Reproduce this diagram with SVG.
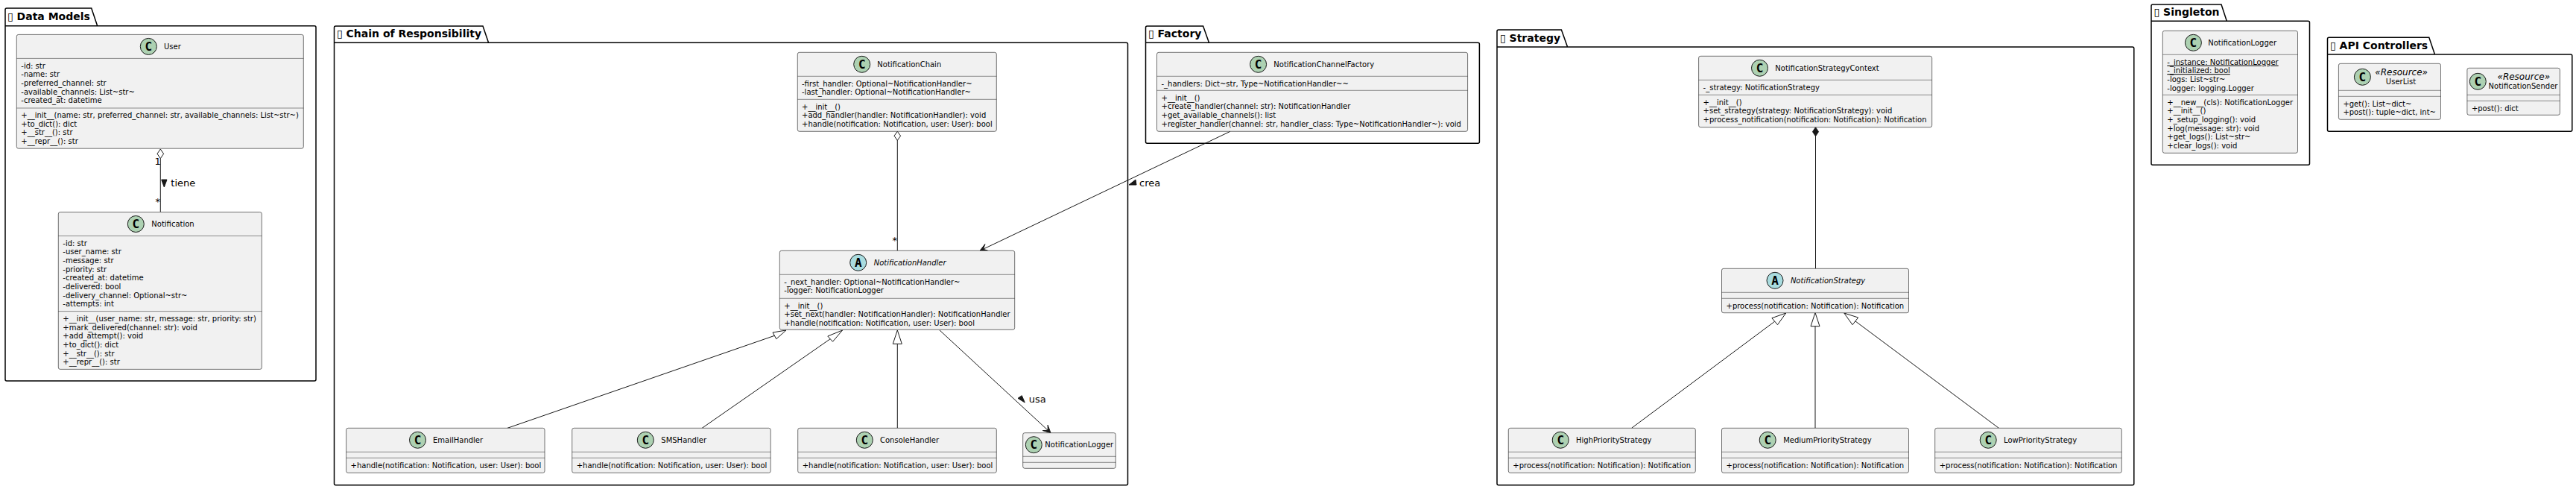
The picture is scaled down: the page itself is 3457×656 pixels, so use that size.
<svg xmlns="http://www.w3.org/2000/svg" width="3457" height="656" viewBox="0 0 3457 656">
<style>
text{font-family:"DejaVu Sans","Liberation Sans",sans-serif;fill:#000}
.pkg{fill:none;stroke:#000;stroke-width:1.5}
.pt{font-size:14px;font-weight:700}
.box{fill:#F1F1F1;stroke:#181818;stroke-opacity:.6;stroke-width:1}
.div{stroke:#181818;stroke-opacity:.6;stroke-width:.8}
.cc{fill:#ADD1B2;stroke:#181818;stroke-width:1}
.ca{fill:#A9DCDF;stroke:#181818;stroke-width:1}
.g{font-size:16px;font-weight:700;text-anchor:middle;font-family:"DejaVu Sans Mono","DejaVu Sans",monospace}
.n{font-size:10px}
.i{font-style:italic}
.m{font-size:10px}
.st{font-size:12px;font-style:italic;text-anchor:middle}
.u{text-decoration:underline}
.l{font-size:13px}
.c{fill:none;stroke:#181818;stroke-width:1}
.h{fill:#fff;stroke:#181818;stroke-width:1}
.o{fill:#181818;stroke:#181818;stroke-width:1}
</style>
<g id="pkg-data-models"><path class="pkg" d="M7 34.7V13Q7 11 9 11H122.7L130.7 34.7H422Q424 34.7 424 36.7V509Q424 511 422 511H9Q7 511 7 509V34.7H130.7"/><text class="pt" x="10" y="27">▯ Data Models</text></g>
<g id="pkg-chain"><path class="pkg" d="M448.5 57.3V37Q448.5 35 450.5 35H648L655.6 57.3H1511.5Q1513.5 57.3 1513.5 59.3V648.7Q1513.5 650.7 1511.5 650.7H450.5Q448.5 650.7 448.5 648.7V57.3H655.6"/><text class="pt" x="452" y="50">▯ Chain of Responsibility</text></g>
<g id="pkg-factory"><path class="pkg" d="M1537.5 57.3V37Q1537.5 35 1539.5 35H1614.6L1622.5 57.3H1983.4Q1985.4 57.3 1985.4 59.3V190.3Q1985.4 192.3 1983.4 192.3H1539.5Q1537.5 192.3 1537.5 190.3V57.3H1622.5"/><text class="pt" x="1541" y="50">▯ Factory</text></g>
<g id="pkg-strategy"><path class="pkg" d="M2009 63V42Q2009 40 2011 40H2095.4L2103.6 63H2861.8Q2863.8 63 2863.8 65V648.7Q2863.8 650.7 2861.8 650.7H2011Q2009 650.7 2009 648.7V63H2103.6"/><text class="pt" x="2013" y="56">▯ Strategy</text></g>
<g id="pkg-singleton"><path class="pkg" d="M2887 28.3V8Q2887 6 2889 6H2981L2988.3 28.3H3097.5Q3099.5 28.3 3099.5 30.3V219.3Q3099.5 221.3 3097.5 221.3H2889Q2887 221.3 2887 219.3V28.3H2988.3"/><text class="pt" x="2890.5" y="21">▯ Singleton</text></g>
<g id="pkg-api"><path class="pkg" d="M3123.5 73V52.3Q3123.5 50.3 3125.5 50.3H3259.8L3267.5 73H3449.8Q3451.8 73 3451.8 75V174.3Q3451.8 176.3 3449.8 176.3H3125.5Q3123.5 176.3 3123.5 174.3V73H3267.5"/><text class="pt" x="3127" y="66">▯ API Controllers</text></g>

<g id="connectors">
<path class="c" d="M215.3 212.5V284.5"/><path class="h" d="M215.3 200L211 206.3L215.3 212.6L219.6 206.3Z"/>
<path class="o" d="M216.7 241H224L220.3 251Z"/><text class="l" x="229.3" y="250">tiene</text><text class="l" x="207.5" y="221">1</text><text class="l" x="208.5" y="275">*</text>
<path class="c" d="M1204.3 188V336.3"/><path class="h" d="M1204.3 176.3L1200 182.3L1204.3 188.3L1208.6 182.3Z"/><text class="l" x="1197.5" y="327">*</text>
<path class="c" d="M1651 176.3L1319.5 334.2"/><path class="o" d="M1315 336.3L1326.2 336.5L1319.5 334.2L1321.9 327.5Z"/>
<path class="o" d="M1515 248L1524 241L1525 248Z"/><text class="l" x="1529" y="250">crea</text>
<path class="c" d="M681 574.3L1039.4 450.3"/><path class="h" d="M1055 443L1037 446L1041.8 454.7Z"/>
<path class="c" d="M942.2 574.3L1114.2 454.7"/><path class="h" d="M1130.6 443L1110.8 451L1117.5 458.3Z"/>
<path class="c" d="M1204.3 574.3V461.3"/><path class="h" d="M1204.3 443L1198.3 461.3H1210.3Z"/>
<path class="c" d="M1261 443L1406.3 577.3"/><path class="o" d="M1410 580.7L1406.1 570.2L1406.3 577.3L1399.3 577.6Z"/>
<path class="o" d="M1366 534.3L1371.3 530.7L1375.3 540Z"/><text class="l" x="1380.7" y="540">usa</text>
<path class="c" d="M2436.5 182V360.3"/><path class="o" d="M2436.5 170.7L2432.5 176.7L2436.5 182.7L2440.5 176.7Z"/>
<path class="c" d="M2189.6 574.3L2381.7 431.2"/><path class="h" d="M2396.7 420L2377.9 426.7L2385.5 435.7Z"/>
<path class="c" d="M2436 574.3V437.7"/><path class="h" d="M2436 419.5L2430 437.7H2442Z"/>
<path class="c" d="M2682.4 574.3L2489.8 430.8"/><path class="h" d="M2474.8 420L2493.7 426L2486 435.7Z"/>
</g>

<g id="User"><rect class="box" x="22.3" y="46.4" width="385" height="152.8" rx="2.5"/><path class="div" d="M22.3 78.4H407.3M22.3 145H407.3"/><circle class="cc" cx="199.3" cy="62.4" r="11"/><text class="g" x="199.3" y="68">C</text><text class="n" x="220" y="66">User</text>
<text class="m" x="28.3" y="91.7">-id: str</text><text class="m" x="28.3" y="103.3">-name: str</text><text class="m" x="28.3" y="115">-preferred_channel: str</text><text class="m" x="28.3" y="126.6">-available_channels: List~str~</text><text class="m" x="28.3" y="138.2">-created_at: datetime</text>
<text class="m" x="28.3" y="157.9">+__init__(name: str, preferred_channel: str, available_channels: List~str~)</text><text class="m" x="28.3" y="169.5">+to_dict(): dict</text><text class="m" x="28.3" y="181.2">+__str__(): str</text><text class="m" x="28.3" y="192.8">+__repr__(): str</text></g>

<g id="Notification"><rect class="box" x="78.3" y="284.5" width="273" height="210.9" rx="2.5"/><path class="div" d="M78.3 316.5H351.3M78.3 417.6H351.3"/><circle class="cc" cx="182.3" cy="300.5" r="11"/><text class="g" x="182.3" y="306">C</text><text class="n" x="203.3" y="304">Notification</text>
<text class="m" x="84.3" y="329.8">-id: str</text><text class="m" x="84.3" y="341.4">-user_name: str</text><text class="m" x="84.3" y="353.1">-message: str</text><text class="m" x="84.3" y="364.7">-priority: str</text><text class="m" x="84.3" y="376.4">-created_at: datetime</text><text class="m" x="84.3" y="388">-delivered: bool</text><text class="m" x="84.3" y="399.6">-delivery_channel: Optional~str~</text><text class="m" x="84.3" y="411.3">-attempts: int</text>
<text class="m" x="84.3" y="430.9">+__init__(user_name: str, message: str, priority: str)</text><text class="m" x="84.3" y="442.5">+mark_delivered(channel: str): void</text><text class="m" x="84.3" y="454.2">+add_attempt(): void</text><text class="m" x="84.3" y="465.8">+to_dict(): dict</text><text class="m" x="84.3" y="477.5">+__str__(): str</text><text class="m" x="84.3" y="489.1">+__repr__(): str</text></g>

<g id="NotificationChain"><rect class="box" x="1070.3" y="70.3" width="267" height="106" rx="2.5"/><path class="div" d="M1070.3 102.3H1337.3M1070.3 133.3H1337.3"/><circle class="cc" cx="1156.7" cy="86.3" r="11"/><text class="g" x="1156.7" y="92">C</text><text class="n" x="1177.3" y="90">NotificationChain</text>
<text class="m" x="1076" y="115.6">-first_handler: Optional~NotificationHandler~</text><text class="m" x="1076" y="127.2">-last_handler: Optional~NotificationHandler~</text>
<text class="m" x="1076" y="146.6">+__init__()</text><text class="m" x="1076" y="158.2">+add_handler(handler: NotificationHandler): void</text><text class="m" x="1076" y="169.9">+handle(notification: Notification, user: User): bool</text></g>

<g id="NotificationHandler"><rect class="box" x="1046.3" y="336.3" width="315.4" height="106" rx="2.5"/><path class="div" d="M1046.3 368.3H1361.7M1046.3 400.3H1361.7"/><circle class="ca" cx="1151.7" cy="352.3" r="11"/><text class="g" x="1151.7" y="358">A</text><text class="n i" x="1172.7" y="356">NotificationHandler</text>
<text class="m" x="1052.3" y="381.6">-_next_handler: Optional~NotificationHandler~</text><text class="m" x="1052.3" y="393.2">-logger: NotificationLogger</text>
<text class="m" x="1052.3" y="413.6">+__init__()</text><text class="m" x="1052.3" y="425.2">+set_next(handler: NotificationHandler): NotificationHandler</text><text class="m" x="1052.3" y="436.9">+handle(notification: Notification, user: User): bool</text></g>

<g id="EmailHandler"><rect class="box" x="464.6" y="574.3" width="266.4" height="60" rx="2.5"/><path class="div" d="M464.6 606.3H731M464.6 614.3H731"/><circle class="cc" cx="560.5" cy="590.3" r="11"/><text class="g" x="560.5" y="596">C</text><text class="n" x="581" y="594">EmailHandler</text><text class="m" x="470.6" y="627.6">+handle(notification: Notification, user: User): bool</text></g>
<g id="SMSHandler"><rect class="box" x="767.7" y="574.3" width="266.5" height="60" rx="2.5"/><path class="div" d="M767.7 606.3H1034.2M767.7 614.3H1034.2"/><circle class="cc" cx="866.3" cy="590.3" r="11"/><text class="g" x="866.3" y="596">C</text><text class="n" x="887.3" y="594">SMSHandler</text><text class="m" x="773.7" y="627.6">+handle(notification: Notification, user: User): bool</text></g>
<g id="ConsoleHandler"><rect class="box" x="1070.7" y="574.3" width="266.6" height="60" rx="2.5"/><path class="div" d="M1070.7 606.3H1337.3M1070.7 614.3H1337.3"/><circle class="cc" cx="1160.3" cy="590.3" r="11"/><text class="g" x="1160.3" y="596">C</text><text class="n" x="1181" y="594">ConsoleHandler</text><text class="m" x="1076.7" y="627.6">+handle(notification: Notification, user: User): bool</text></g>
<g id="NotificationLogger-ref"><rect class="box" x="1372.7" y="580.7" width="124.6" height="47.6" rx="2.5"/><path class="div" d="M1372.7 612.3H1497.3M1372.7 620.3H1497.3"/><circle class="cc" cx="1387.3" cy="596.7" r="11"/><text class="g" x="1387.3" y="602.3">C</text><text class="n" x="1402.3" y="600.4">NotificationLogger</text></g>

<g id="NotificationChannelFactory"><rect class="box" x="1552.5" y="70.3" width="417.1" height="106" rx="2.5"/><path class="div" d="M1552.5 102.3H1969.6M1552.5 121.3H1969.6"/><circle class="cc" cx="1688.6" cy="86.3" r="11"/><text class="g" x="1688.6" y="92">C</text><text class="n" x="1709.3" y="90">NotificationChannelFactory</text>
<text class="m" x="1558.5" y="115.6">-_handlers: Dict~str, Type~NotificationHandler~~</text>
<text class="m" x="1558.5" y="134.8">+__init__()</text><text class="m" x="1558.5" y="146.4">+create_handler(channel: str): NotificationHandler</text><text class="m" x="1558.5" y="158.1">+get_available_channels(): list</text><text class="m" x="1558.5" y="169.7">+register_handler(channel: str, handler_class: Type~NotificationHandler~): void</text></g>

<g id="NotificationStrategyContext"><rect class="box" x="2279.6" y="75.3" width="313.1" height="95.4" rx="2.5"/><path class="div" d="M2279.6 107.3H2592.7M2279.6 127.3H2592.7"/><circle class="cc" cx="2361.5" cy="91.3" r="11"/><text class="g" x="2361.5" y="97">C</text><text class="n" x="2382.3" y="95">NotificationStrategyContext</text>
<text class="m" x="2285.6" y="120.6">-_strategy: NotificationStrategy</text>
<text class="m" x="2285.6" y="140.6">+__init__()</text><text class="m" x="2285.6" y="152.2">+set_strategy(strategy: NotificationStrategy): void</text><text class="m" x="2285.6" y="163.9">+process_notification(notification: Notification): Notification</text></g>

<g id="NotificationStrategy"><rect class="box" x="2310.5" y="360.3" width="251" height="59.4" rx="2.5"/><path class="div" d="M2310.5 392.3H2561.5M2310.5 400.3H2561.5"/><circle class="ca" cx="2382" cy="376.3" r="11"/><text class="g" x="2382" y="382">A</text><text class="n i" x="2402.9" y="380">NotificationStrategy</text><text class="m" x="2316.5" y="413.6">+process(notification: Notification): Notification</text></g>
<g id="HighPriorityStrategy"><rect class="box" x="2024.3" y="574.3" width="251" height="60" rx="2.5"/><path class="div" d="M2024.3 606.3H2275.3M2024.3 614.3H2275.3"/><circle class="cc" cx="2094.2" cy="590.3" r="11"/><text class="g" x="2094.2" y="596">C</text><text class="n" x="2115" y="594">HighPriorityStrategy</text><text class="m" x="2030.3" y="627.6">+process(notification: Notification): Notification</text></g>
<g id="MediumPriorityStrategy"><rect class="box" x="2310.5" y="574.3" width="251" height="60" rx="2.5"/><path class="div" d="M2310.5 606.3H2561.5M2310.5 614.3H2561.5"/><circle class="cc" cx="2372.2" cy="590.3" r="11"/><text class="g" x="2372.2" y="596">C</text><text class="n" x="2393.2" y="594">MediumPriorityStrategy</text><text class="m" x="2316.5" y="627.6">+process(notification: Notification): Notification</text></g>
<g id="LowPriorityStrategy"><rect class="box" x="2596.7" y="574.3" width="250.6" height="60" rx="2.5"/><path class="div" d="M2596.7 606.3H2847.3M2596.7 614.3H2847.3"/><circle class="cc" cx="2668.2" cy="590.3" r="11"/><text class="g" x="2668.2" y="596">C</text><text class="n" x="2689" y="594">LowPriorityStrategy</text><text class="m" x="2602.7" y="627.6">+process(notification: Notification): Notification</text></g>

<g id="NotificationLogger"><rect class="box" x="2902.3" y="41.3" width="181.2" height="164" rx="2.5"/><path class="div" d="M2902.3 73.3H3083.5M2902.3 127.3H3083.5"/><circle class="cc" cx="2943.4" cy="57.3" r="11"/><text class="g" x="2943.4" y="63">C</text><text class="n" x="2963.2" y="61">NotificationLogger</text>
<text class="m u" x="2908.3" y="86.6">-_instance: NotificationLogger</text><text class="m u" x="2908.3" y="98.2">-_initialized: bool</text><text class="m" x="2908.3" y="109.9">-logs: List~str~</text><text class="m" x="2908.3" y="121.5">-logger: logging.Logger</text>
<text class="m" x="2908.3" y="140.6">+__new__(cls): NotificationLogger</text><text class="m" x="2908.3" y="152.2">+__init__()</text><text class="m" x="2908.3" y="163.9">+_setup_logging(): void</text><text class="m" x="2908.3" y="175.5">+log(message: str): void</text><text class="m" x="2908.3" y="187.2">+get_logs(): List~str~</text><text class="m" x="2908.3" y="198.8">+clear_logs(): void</text></g>

<g id="UserList"><rect class="box" x="3138.4" y="85.3" width="137.1" height="75" rx="2.5"/><path class="div" d="M3138.4 121.3H3275.5M3138.4 129.3H3275.5"/><circle class="cc" cx="3170.4" cy="103.3" r="11"/><text class="g" x="3170.4" y="109">C</text><text class="st" x="3222.7" y="101">«Resource»</text><text class="n" x="3222" y="113.3" text-anchor="middle">UserList</text><text class="m" x="3144.4" y="142.6">+get(): List~dict~</text><text class="m" x="3144.4" y="154.2">+post(): tuple~dict, int~</text></g>
<g id="NotificationSender"><rect class="box" x="3310.9" y="91.3" width="124.5" height="63" rx="2.5"/><path class="div" d="M3310.9 127.3H3435.4M3310.9 135.3H3435.4"/><circle class="cc" cx="3325.3" cy="109.3" r="11"/><text class="g" x="3325.3" y="115">C</text><text class="st" x="3386.8" y="107">«Resource»</text><text class="n" x="3386" y="119.3" text-anchor="middle">NotificationSender</text><text class="m" x="3316.9" y="148.6">+post(): dict</text></g>
</svg>
